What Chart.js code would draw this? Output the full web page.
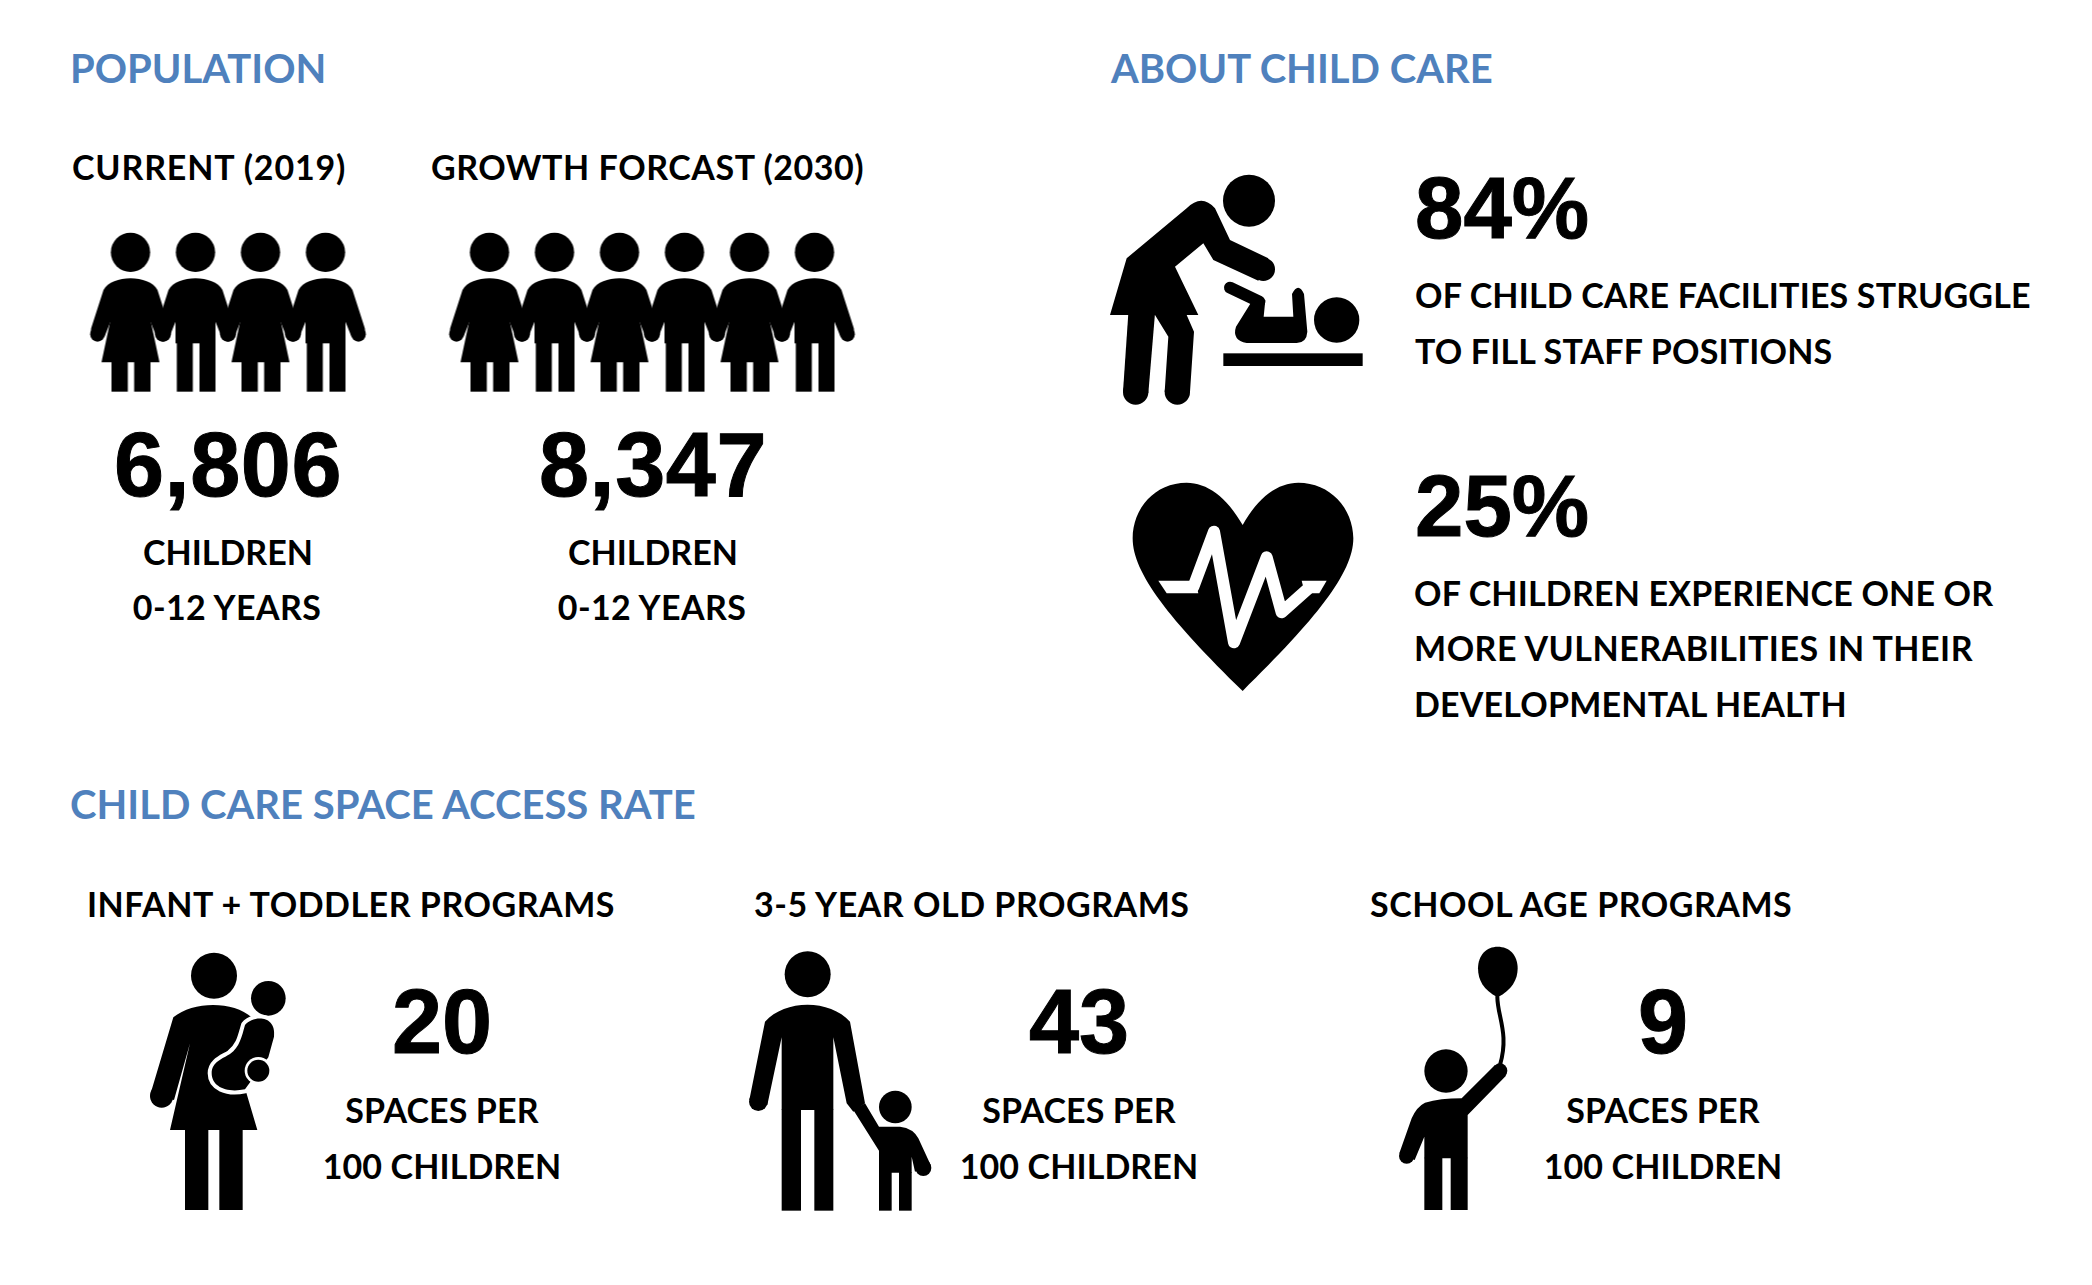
<!DOCTYPE html>
<html>
<head>
<meta charset="utf-8">
<title>Child care infographic</title>
<script src="https://cdn.jsdelivr.net/npm/chart.js@4"></script>
<style>
  html, body { margin: 0; background: #fff; }
  #page { position: relative; width: 2092px; height: 1285px; overflow: hidden; }
  #page canvas { position: absolute; }
  .txt { position: absolute; white-space: nowrap; color: #000; font-family: Lato, sans-serif; font-weight: 700; }
  .head { color: #4f81bd; }
  .num { font-family: "Liberation Sans", Arial, sans-serif; -webkit-text-stroke: 1px #000; }
</style>
</head>
<body>
<div id="page"></div>
<script>
// data
const sectionTitles = ["POPULATION", "ABOUT CHILD CARE", "CHILD CARE SPACE ACCESS RATE"];
const populationCategories = ["CURRENT (2019)", "GROWTH FORCAST (2030)"];
const populationValues = [6806, 8347];
const populationUnits = ["CHILDREN", "0-12 YEARS"];
const figuresCurrent = ["woman", "man", "woman", "man"];
const figuresForecast = ["woman", "man", "woman", "man", "woman", "man"];
const carePercents = [84, 25];
const careText = [
  ["OF CHILD CARE FACILITIES STRUGGLE", "TO FILL STAFF POSITIONS"],
  ["OF CHILDREN EXPERIENCE ONE OR", "MORE VULNERABILITIES IN THEIR", "DEVELOPMENTAL HEALTH"]
];
const accessCategories = ["INFANT + TODDLER PROGRAMS", "3-5 YEAR OLD PROGRAMS", "SCHOOL AGE PROGRAMS"];
const accessValues = [20, 43, 9];
const accessUnits = ["SPACES PER", "100 CHILDREN"];

const page = document.getElementById("page");

// TEXT
function label(text, x, y, size, opts = {}) {
  const el = document.createElement("div");
  el.className = "txt " + (opts.cls || "");
  el.innerText = text;
  el.style.left = x + "px";
  el.style.top = y + "px";
  el.style.fontSize = size + "px";
  if (opts.spacing) el.style.letterSpacing = opts.spacing + "px";
  el.style.transform = opts.center ? "translate(-50%,-50%)" : "translateY(-50%)";
  page.appendChild(el);
}

const headSize = 40, subSize = 34, numSize = 90, pctSize = 87;

label(sectionTitles[0], 70, 68, headSize, { cls: "head" });
label(sectionTitles[1], 1111, 68, headSize, { cls: "head" });
label(sectionTitles[2], 70, 804, headSize, { cls: "head" });

label(populationCategories[0], 72, 166, subSize, { spacing: 0.85 });
label(populationCategories[1], 431, 166, subSize, { spacing: 0.55 });
[227, 652].forEach((cx, i) => {
  label(populationValues[i].toLocaleString("en-US"), cx + 1, 465, numSize, { cls: "num", center: true, spacing: 0.6 });
  label(populationUnits[0], cx + 1, 551, subSize, { center: true });
  label(populationUnits[1], cx, 606, subSize, { center: true, spacing: 0.4 });
});

label(carePercents[0] + "%", 1415, 208, pctSize, { cls: "num" });
label(careText[0][0], 1415, 294, subSize, { spacing: 0.16 });
label(careText[0][1], 1415, 350, subSize, { spacing: 0.17 });
label(carePercents[1] + "%", 1415, 506, pctSize, { cls: "num" });
label(careText[1][0], 1414, 592, subSize, { spacing: 0.18 });
label(careText[1][1], 1414, 647, subSize, { spacing: 0.5 });
label(careText[1][2], 1414, 703, subSize, { spacing: 0.2 });

[87, 754, 1370].forEach((x, i) => label(accessCategories[i], x, 903, subSize, { spacing: 0.52 }));
[442, 1079, 1663].forEach((cx, i) => {
  label(accessValues[i], cx, 1022, numSize, { cls: "num", center: true });
  label(accessUnits[0], cx, 1109, subSize, { center: true, spacing: 0.1 });
  label(accessUnits[1], cx, 1165, subSize, { center: true, spacing: 0.1 });
});

// ICON HELPERS (drawn at 3x units, then scaled down)
function makeIcon(w, h, draw, dx = 0) {
  const c = document.createElement("canvas");
  c.width = w;
  c.height = h;
  const ctx = c.getContext("2d");
  ctx.scale(1 / 3, 1 / 3);
  ctx.translate(dx, 0);
  ctx.fillStyle = "#000";
  ctx.strokeStyle = "#000";
  ctx.lineJoin = "round";
  ctx.lineCap = "round";
  draw(ctx);
  return c;
}
function circle(ctx, x, y, r, color = "#000") {
  ctx.fillStyle = color;
  ctx.beginPath();
  ctx.arc(x, y, r, 0, Math.PI * 2);
  ctx.fill();
  ctx.fillStyle = "#000";
}
function poly(ctx, pts) {
  ctx.beginPath();
  pts.forEach((p, i) => i ? ctx.lineTo(p[0], p[1]) : ctx.moveTo(p[0], p[1]));
  ctx.closePath();
  ctx.fill();
}
function limb(ctx, pts, width, color = "#000") {
  ctx.strokeStyle = color;
  ctx.lineWidth = width;
  ctx.beginPath();
  pts.forEach((p, i) => i ? ctx.lineTo(p[0], p[1]) : ctx.moveTo(p[0], p[1]));
  ctx.stroke();
  ctx.strokeStyle = "#000";
}
function shoulders(ctx, l, r, peakY, shoulderY) {
  ctx.beginPath();
  ctx.moveTo(l, shoulderY);
  ctx.bezierCurveTo(l + 25, peakY - 12, r - 25, peakY - 12, r, shoulderY);
  ctx.closePath();
  ctx.fill();
}

// ICONS
function smallBody(ctx) {
  circle(ctx, 0, 127, 59);
  shoulders(ctx, -81, 81, 205, 240);
  poly(ctx, [[-81, 240], [-118, 355], [-120, 375], [-78, 380], [-60, 335], [60, 335], [78, 380], [120, 375], [118, 355], [81, 240]]);
  circle(ctx, -99, 373, 22);
  circle(ctx, 99, 373, 22);
}
const iconWoman = makeIcon(100, 190, ctx => {
  smallBody(ctx);
  poly(ctx, [[-60, 330], [-87, 457], [87, 457], [60, 330]]);
  ctx.fillRect(-57, 455, 49, 90);
  ctx.fillRect(11, 455, 49, 90);
}, 150);
const iconMan = makeIcon(100, 190, ctx => {
  smallBody(ctx);
  ctx.fillRect(-60, 330, 120, 70);
  ctx.fillRect(-56, 395, 48, 150);
  ctx.fillRect(12, 395, 48, 150);
}, 150);

const iconChanging = makeIcon(300, 260, ctx => {
  circle(ctx, 477, 122, 78);
  // carer
  ctx.beginPath();
  ctx.moveTo(60, 465);
  ctx.lineTo(110, 295);
  ctx.lineTo(290, 145);
  ctx.quadraticCurveTo(335, 100, 375, 145);
  ctx.lineTo(420, 240);
  ctx.lineTo(535, 295);
  ctx.lineTo(505, 362);
  ctx.lineTo(370, 300);
  ctx.lineTo(340, 250);
  ctx.lineTo(255, 320);
  ctx.lineTo(325, 465);
  ctx.closePath();
  ctx.fill();
  circle(ctx, 520, 328, 35);
  poly(ctx, [[115, 460], [195, 460], [175, 700], [99, 695]]);
  poly(ctx, [[195, 465], [290, 465], [312, 515], [300, 695], [224, 695], [235, 530]]);
  circle(ctx, 137, 696, 38);
  circle(ctx, 262, 696, 38);
  // baby
  circle(ctx, 740, 480, 68);
  limb(ctx, [[420, 383], [508, 425]], 36);
  ctx.beginPath();
  ctx.moveTo(488, 420);
  ctx.lineTo(526, 420);
  ctx.lineTo(521, 470);
  ctx.lineTo(610, 470);
  ctx.lineTo(606, 402);
  ctx.quadraticCurveTo(625, 365, 642, 402);
  ctx.lineTo(652, 515);
  ctx.quadraticCurveTo(650, 548, 620, 549);
  ctx.lineTo(470, 549);
  ctx.quadraticCurveTo(425, 540, 438, 500);
  ctx.closePath();
  ctx.fill();
  ctx.fillRect(400, 580, 418, 38);
});

const iconHeart = makeIcon(260, 240, ctx => {
  ctx.beginPath();
  ctx.moveTo(398, 195);
  ctx.bezierCurveTo(350, 110, 290, 68, 230, 68);
  ctx.bezierCurveTo(135, 68, 68, 145, 68, 235);
  ctx.bezierCurveTo(68, 340, 180, 480, 398, 693);
  ctx.bezierCurveTo(615, 480, 730, 340, 730, 235);
  ctx.bezierCurveTo(730, 145, 660, 68, 565, 68);
  ctx.bezierCurveTo(505, 68, 445, 110, 398, 195);
  ctx.closePath();
  ctx.fill();
  limb(ctx, [[250, 381], [312, 215], [372, 547], [470, 292], [515, 457], [600, 381]], 36, "#fff");
  ctx.fillStyle = "#fff";
  poly(ctx, [[145, 362], [255, 362], [265, 400], [170, 400]]);
  poly(ctx, [[650, 362], [575, 362], [585, 400], [628, 400]]);
  ctx.fillStyle = "#000";
});

const iconMother = makeIcon(180, 290, ctx => {
  circle(ctx, 252, 137, 69);
  // torso and skirt
  ctx.beginPath();
  ctx.moveTo(130, 262);
  ctx.bezierCurveTo(190, 213, 310, 213, 365, 262);
  ctx.lineTo(345, 475);
  ctx.lineTo(382, 600);
  ctx.lineTo(120, 600);
  ctx.lineTo(180, 340);
  ctx.lineTo(132, 510);
  ctx.lineTo(62, 490);
  ctx.closePath();
  ctx.fill();
  circle(ctx, 95, 498, 35);
  ctx.fillRect(165, 598, 70, 242);
  ctx.fillRect(268, 598, 70, 242);
  circle(ctx, 415, 205, 52);
  // baby body with a white outline over the torso
  ctx.beginPath();
  ctx.moveTo(345, 285);
  ctx.bezierCurveTo(370, 255, 440, 255, 432, 320);
  ctx.lineTo(415, 382);
  ctx.lineTo(345, 478);
  ctx.bezierCurveTo(290, 490, 245, 470, 245, 430);
  ctx.bezierCurveTo(245, 395, 280, 385, 300, 372);
  ctx.bezierCurveTo(330, 350, 335, 320, 345, 285);
  ctx.closePath();
  ctx.lineWidth = 24;
  ctx.strokeStyle = "#fff";
  ctx.stroke();
  ctx.fill();
  circle(ctx, 385, 422, 41, "#fff");
  circle(ctx, 385, 422, 33);
});

const iconParent = makeIcon(210, 290, ctx => {
  circle(ctx, 233, 133, 69);
  ctx.beginPath();
  ctx.moveTo(105, 275);
  ctx.bezierCurveTo(165, 207, 300, 207, 360, 275);
  ctx.lineTo(405, 520);
  ctx.lineTo(370, 545);
  ctx.lineTo(350, 520);
  ctx.lineTo(310, 322);
  ctx.lineTo(310, 540);
  ctx.lineTo(155, 540);
  ctx.lineTo(155, 322);
  ctx.lineTo(112, 525);
  ctx.lineTo(58, 510);
  ctx.closePath();
  ctx.fill();
  circle(ctx, 85, 515, 28);
  ctx.fillRect(155, 538, 58, 304);
  ctx.fillRect(253, 538, 57, 304);
  // child
  circle(ctx, 496, 531, 49);
  ctx.beginPath();
  ctx.moveTo(370, 540);
  ctx.lineTo(405, 520);
  ctx.lineTo(447, 590);
  ctx.lineTo(510, 590);
  ctx.quadraticCurveTo(550, 595, 565, 625);
  ctx.lineTo(602, 705);
  ctx.lineTo(555, 725);
  ctx.lineTo(545, 680);
  ctx.lineTo(545, 728);
  ctx.lineTo(447, 728);
  ctx.lineTo(447, 662);
  ctx.closePath();
  ctx.fill();
  circle(ctx, 580, 714, 24);
  ctx.fillRect(447, 726, 38, 116);
  ctx.fillRect(507, 726, 38, 116);
});

const iconBalloon = makeIcon(160, 290, ctx => {
  ctx.beginPath();
  ctx.moveTo(353, 202);
  ctx.bezierCurveTo(310, 180, 294, 150, 294, 115);
  ctx.bezierCurveTo(294, 75, 320, 50, 353, 50);
  ctx.bezierCurveTo(388, 50, 413, 75, 413, 115);
  ctx.bezierCurveTo(413, 150, 395, 180, 353, 202);
  ctx.closePath();
  ctx.fill();
  ctx.lineWidth = 12;
  ctx.beginPath();
  ctx.moveTo(352, 200);
  ctx.bezierCurveTo(352, 260, 388, 310, 360, 405);
  ctx.stroke();
  circle(ctx, 198, 423, 65);
  ctx.beginPath();
  ctx.moveTo(345, 405);
  ctx.lineTo(378, 437);
  ctx.lineTo(263, 555);
  ctx.lineTo(263, 685);
  ctx.lineTo(133, 685);
  ctx.lineTo(133, 620);
  ctx.lineTo(104, 690);
  ctx.lineTo(58, 670);
  ctx.lineTo(95, 565);
  ctx.quadraticCurveTo(110, 530, 135, 518);
  ctx.quadraticCurveTo(180, 505, 245, 505);
  ctx.closePath();
  ctx.fill();
  circle(ctx, 80, 678, 23);
  circle(ctx, 360, 422, 22);
  ctx.fillRect(133, 683, 54, 157);
  ctx.fillRect(212, 683, 51, 157);
});

// CHARTS
const figureIcons = { woman: iconWoman, man: iconMan };

function iconChart(left, top, width, height, icons, side = 0) {
  const canvas = document.createElement("canvas");
  canvas.width = width;
  canvas.height = height;
  canvas.style.left = left + "px";
  canvas.style.top = top + "px";
  page.appendChild(canvas);
  new Chart(canvas, {
    type: "scatter",
    data: {
      datasets: [{
        data: icons.map((_, i) => ({ x: i, y: 0 })),
        pointStyle: icons,
        clip: false
      }]
    },
    options: {
      responsive: false,
      animation: false,
      events: [],
      layout: { padding: { left: side, right: side, top: 0, bottom: 0 } },
      plugins: { legend: { display: false }, tooltip: { enabled: false } },
      scales: {
        x: { display: false, min: -0.5, max: icons.length - 0.5 },
        y: { display: false, min: -1, max: 1 }
      }
    }
  });
}

iconChart(68, 210, 320, 190, figuresCurrent.map(f => figureIcons[f]), 30);
iconChart(427, 210, 450, 190, figuresForecast.map(f => figureIcons[f]), 30);
iconChart(1090, 160, 300, 260, [iconChanging]);
iconChart(1110, 460, 260, 240, [iconHeart]);
iconChart(130, 930, 180, 290, [iconMother]);
iconChart(730, 930, 210, 290, [iconParent]);
iconChart(1380, 930, 160, 290, [iconBalloon]);
</script>
</body>
</html>
